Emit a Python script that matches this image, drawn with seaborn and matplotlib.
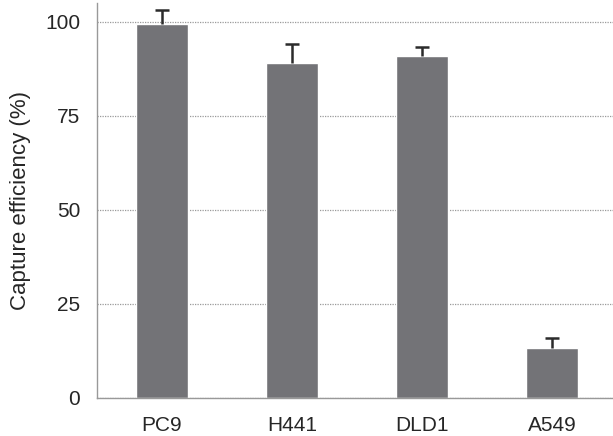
import pandas as pd
import matplotlib
matplotlib.use("Agg")
import matplotlib.pyplot as plt
import seaborn as sns

lineas = ["PC9", "H441", "DLD1", "A549"]
eficiencia = [99.5, 89.0, 90.8, 13.4]
error_sup = [3.7, 5.0, 2.5, 2.5]

df = pd.DataFrame({"linea": lineas, "eficiencia": eficiencia, "err": error_sup})

sns.set_style("white")
plt.rcParams["font.family"] = ["Liberation Sans", "DejaVu Sans"]

fig = plt.figure(figsize=(6.13, 4.36), dpi=100)
ax = fig.add_axes([0.158, 0.0872, 0.8485, 0.906])

sns.barplot(data=df, x="linea", y="eficiencia", color="#737377", saturation=1,
            width=0.4, errorbar=None, ax=ax, zorder=2)
eb = ax.errorbar(range(len(lineas)), df["eficiencia"], yerr=[[0] * len(lineas), df["err"]],
                 fmt="none", ecolor="#2b2b2b", elinewidth=1.8, capsize=5, capthick=1.8,
                 zorder=3)
# solo la tapa superior
eb.lines[1][0].set_visible(False)

ax.set_ylim(0, 105)
ax.set_xlim(-0.5, 3.5)
ax.set_yticks([0, 25, 50, 75, 100])
ax.yaxis.grid(True, linestyle=(0, (1, 1)), color="#9a9a9a", linewidth=0.9, zorder=0)
ax.set_axisbelow(True)

# ticks del eje x en los limites entre categorias
ax.set_xticks([-0.5, 0.5, 1.5, 2.5], minor=False)
ax.set_xticklabels([])
ax.set_xticks([0, 1, 2, 3], minor=True)
ax.set_xticklabels(lineas, minor=True, fontsize=15)
ax.tick_params(axis="x", which="minor", length=0, pad=13)
ax.tick_params(axis="x", which="major", length=6, color="#999999", width=1)
ax.tick_params(axis="y", length=6, color="#999999", width=1, labelsize=15, pad=6)

for lado in ["top", "right"]:
    ax.spines[lado].set_visible(False)
for lado in ["left", "bottom"]:
    ax.spines[lado].set_color("#999999")
    ax.spines[lado].set_linewidth(1)

ax.set_xlabel("")
ax.set_ylabel("Capture efficiency (%)", fontsize=16, labelpad=10)

fig.savefig("out.png", dpi=100)
